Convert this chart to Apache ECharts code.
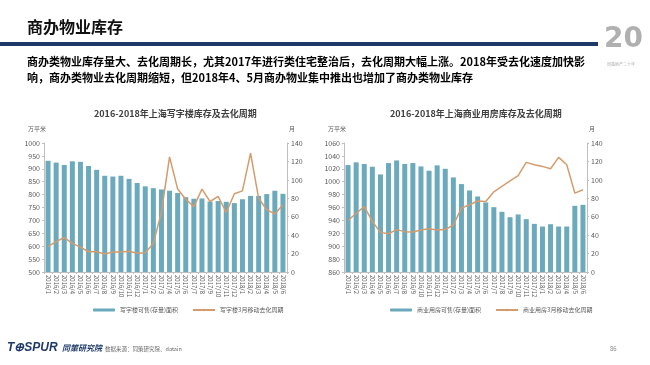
<!DOCTYPE html>
<html><head><meta charset="utf-8">
<script src="https://cdn.jsdelivr.net/npm/echarts@6/dist/echarts.min.js"></script>
<style>html,body{margin:0;padding:0;background:#fff}#c{width:650px;height:365px}</style>
</head><body><div id="c"></div>
<script>
const categories = ['2016/1','2016/2','2016/3','2016/4','2016/5','2016/6','2016/7','2016/8','2016/9','2016/10','2016/11','2016/12',
  '2017/1','2017/2','2017/3','2017/4','2017/5','2017/6','2017/7','2017/8','2017/9','2017/10','2017/11','2017/12',
  '2018/1','2018/2','2018/3','2018/4','2018/5','2018/6'];
const officeStock = [931,924,915,929,927,911,896,873,870,873,861,845,832,825,820,815,806,790,784,785,773,775,772,767,782,795,795,802,815,803];
const officeCycle = [27.6,33,37.4,31,27,22,22,19.6,21.8,21.8,22.5,20.3,21,31,65,125,90,79,71,90,76.5,82,64.6,85,88,129,80,67.5,63,73];
const commStock = [1025.8,1030,1027.4,1023.2,1011.3,1028.9,1033,1027.4,1028.9,1023.7,1017,1025.3,1020,1006.6,996.3,986.4,977.1,967.8,960.5,953.3,945,949.2,941.9,934.6,930.5,934.1,930.5,930.5,962.6,964.1];
const commCycle = [55.9,63.8,71,55,43,41.5,46,43.8,43.4,45.5,47,45.5,46,51,69.3,73,77,76.5,87,93,99,104.5,119,116.4,114.6,112,124.4,116.4,85.6,89.2];
const officeNames = ['写字楼可售(存量)面积','写字楼3月移动去化周期'];
const commNames = ['商业用房可售(存量)面积','商业用房3月移动去化周期'];
const chartTitles = ['2016-2018年上海写字楼库存及去化周期','2016-2018年上海商业用房库存及去化周期'];
const pageTitle = '商办物业库存';
const summaryLines = ['商办类物业库存量大、去化周期长，尤其2017年进行类住宅整治后，去化周期大幅上涨。2018年受去化速度加快影',
  '响，商办类物业去化周期缩短，但2018年4、5月商办物业集中推出也增加了商办类物业库存'];

const FF = '"Noto Sans CJK SC", "Noto Sans", sans-serif';
const BAR = '#6BA9BC', LINE = '#D49C6C', AX = '#bfbfbf', LBL = '#595959';

function yAxis(gridIndex, pos, min, max, interval) {
  return { type: 'value', gridIndex, position: pos, min, max, interval,
    axisLine: { show: true, lineStyle: { color: AX, width: 1 } },
    axisTick: { show: true, length: 2, lineStyle: { color: AX } },
    splitLine: { show: false },
    axisLabel: { fontSize: 7, color: LBL, margin: 4, fontFamily: FF, formatter: v => String(v) } };
}
function xAxis(gridIndex) {
  return { type: 'category', gridIndex, data: categories,
    axisLine: { show: true, lineStyle: { color: AX } },
    axisTick: { show: true, length: 2, lineStyle: { color: AX } },
    axisLabel: { interval: 0, rotate: -90, fontSize: 6, color: LBL, margin: 3, fontFamily: FF } };
}
function legend(names, left) {
  return { data: names, left, top: 302, itemWidth: 22, itemHeight: 3, itemGap: 14,
    textStyle: { fontSize: 6, color: LBL, fontFamily: FF } };
}
function txt(text, left, top, font, fill) {
  return { type: 'text', left, top, style: { text, font, fill } };
}

const chart = echarts.init(document.getElementById('c'), null, { renderer: 'canvas' });
chart.setOption({
  animation: false,
  backgroundColor: '#fff',
  textStyle: { fontFamily: FF },
  grid: [
    { left: 44, top: 143, width: 243, height: 129 },
    { left: 344, top: 143, width: 243, height: 129 }
  ],
  xAxis: [xAxis(0), xAxis(1)],
  yAxis: [
    yAxis(0, 'left', 500, 1000, 50), yAxis(0, 'right', 0, 140, 20),
    yAxis(1, 'left', 860, 1060, 20), yAxis(1, 'right', 0, 140, 20)
  ],
  legend: [legend(officeNames, 88), legend(commNames, 385)],
  series: [
    { name: officeNames[0], type: 'bar', xAxisIndex: 0, yAxisIndex: 0, data: officeStock, barWidth: 5, itemStyle: { color: BAR } },
    { name: officeNames[1], type: 'line', xAxisIndex: 0, yAxisIndex: 1, data: officeCycle, symbol: 'none', lineStyle: { color: LINE, width: 1.5 }, itemStyle: { color: LINE }, z: 5 },
    { name: commNames[0], type: 'bar', xAxisIndex: 1, yAxisIndex: 2, data: commStock, barWidth: 5, itemStyle: { color: BAR } },
    { name: commNames[1], type: 'line', xAxisIndex: 1, yAxisIndex: 3, data: commCycle, symbol: 'none', lineStyle: { color: LINE, width: 1.5 }, itemStyle: { color: LINE }, z: 5 }
  ],
  graphic: [
    txt(pageTitle, 27, 19, 'bold 16px ' + FF, '#111'),
    { type: 'rect', left: 0, top: 42, shape: { width: 598, height: 4 }, style: { fill: '#1F3A68' } },
    txt(summaryLines[0], 27, 56, 'bold 11px ' + FF, '#000'),
    txt(summaryLines[1], 27, 72, 'bold 11px ' + FF, '#000'),
    txt('20', 604, 26, 'bold 28px "DejaVu Sans", sans-serif', '#b0b0b0'),
    txt('同策地产二十年', 607, 62, '4px ' + FF, '#aaa'),
    txt(chartTitles[0], 94, 109, 'bold 9px ' + FF, '#404040'),
    txt(chartTitles[1], 390, 109, 'bold 9px ' + FF, '#404040'),
    txt('万平米', 28, 126, '6px ' + FF, LBL),
    txt('月', 289, 126, '6px ' + FF, LBL),
    txt('万平米', 328, 126, '6px ' + FF, LBL),
    txt('月', 589, 126, '6px ' + FF, LBL),
    txt('T\u2295SPUR', 7, 342, 'italic bold 12px "Liberation Sans", sans-serif', '#1F3A68'),
    txt('同策研究院', 62, 344, 'italic bold 8px ' + FF, '#1F3A68'),
    txt('数据来源：同策研究院、datain', 105, 346, '5.5px ' + FF, '#666'),
    txt('86', 610, 346, '6px ' + FF, '#888')
  ]
});
</script></body></html>
